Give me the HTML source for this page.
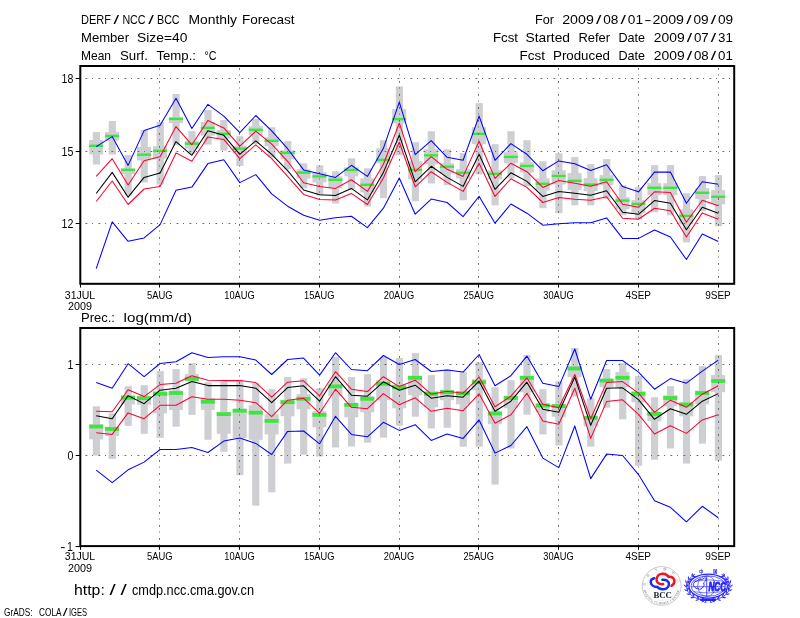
<!DOCTYPE html>
<html lang="en"><head><meta charset="utf-8"><title>DERF/NCC/BCC Monthly Forecast</title>
<style>html,body{margin:0;padding:0;background:#fff}svg{display:block}text{font-family:'Liberation Sans', sans-serif;fill:#000}</style>
</head><body>
<svg width="800" height="618" viewBox="0 0 800 618">
<rect width="800" height="618" fill="#fff"/>
<text y="24.0" font-size="13"><tspan x="81.0" textLength="30.0" lengthAdjust="spacingAndGlyphs">DERF</tspan><tspan x="113.6" textLength="5.6" lengthAdjust="spacingAndGlyphs">/</tspan><tspan x="122.4" textLength="23.2" lengthAdjust="spacingAndGlyphs">NCC</tspan><tspan x="148.2" textLength="5.6" lengthAdjust="spacingAndGlyphs">/</tspan><tspan x="157.0" textLength="22.6" lengthAdjust="spacingAndGlyphs">BCC</tspan> <tspan x="188.4" textLength="48.7" lengthAdjust="spacingAndGlyphs">Monthly</tspan> <tspan x="242.0" textLength="52.6" lengthAdjust="spacingAndGlyphs">Forecast</tspan></text>
<text y="42.0" font-size="13"><tspan x="81.0" textLength="48.0" lengthAdjust="spacingAndGlyphs">Member</tspan> <tspan x="137.0" textLength="50.4" lengthAdjust="spacingAndGlyphs">Size=40</tspan></text>
<text y="60.0" font-size="13"><tspan x="81.0" textLength="30.0" lengthAdjust="spacingAndGlyphs">Mean</tspan> <tspan x="120.0" textLength="28.0" lengthAdjust="spacingAndGlyphs">Surf.</tspan> <tspan x="156.4" textLength="39.6" lengthAdjust="spacingAndGlyphs">Temp.:</tspan> <tspan x="204.4" textLength="12.0" lengthAdjust="spacingAndGlyphs">°C</tspan></text>
<text y="24.0" font-size="13"><tspan x="535.0" textLength="19.0" lengthAdjust="spacingAndGlyphs">For</tspan> <tspan x="562.2" textLength="31.6" lengthAdjust="spacingAndGlyphs">2009</tspan><tspan x="596.0" textLength="5.4" lengthAdjust="spacingAndGlyphs">/</tspan><tspan x="603.2" textLength="15.2" lengthAdjust="spacingAndGlyphs">08</tspan><tspan x="620.6" textLength="5.4" lengthAdjust="spacingAndGlyphs">/</tspan><tspan x="627.8" textLength="15.2" lengthAdjust="spacingAndGlyphs">01</tspan><tspan x="644.2" textLength="7.4" lengthAdjust="spacingAndGlyphs">-</tspan><tspan x="652.4" textLength="31.6" lengthAdjust="spacingAndGlyphs">2009</tspan><tspan x="686.2" textLength="5.4" lengthAdjust="spacingAndGlyphs">/</tspan><tspan x="693.4" textLength="15.2" lengthAdjust="spacingAndGlyphs">09</tspan><tspan x="710.8" textLength="5.4" lengthAdjust="spacingAndGlyphs">/</tspan><tspan x="718.0" textLength="15.2" lengthAdjust="spacingAndGlyphs">09</tspan></text>
<text y="42.0" font-size="13"><tspan x="493.0" textLength="25.0" lengthAdjust="spacingAndGlyphs">Fcst</tspan> <tspan x="525.6" textLength="44.4" lengthAdjust="spacingAndGlyphs">Started</tspan> <tspan x="578.4" textLength="31.6" lengthAdjust="spacingAndGlyphs">Refer</tspan> <tspan x="618.4" textLength="26.6" lengthAdjust="spacingAndGlyphs">Date</tspan> <tspan x="653.8" textLength="30.9" lengthAdjust="spacingAndGlyphs">2009</tspan><tspan x="686.8" textLength="5.4" lengthAdjust="spacingAndGlyphs">/</tspan><tspan x="693.9" textLength="14.8" lengthAdjust="spacingAndGlyphs">07</tspan><tspan x="710.8" textLength="5.4" lengthAdjust="spacingAndGlyphs">/</tspan><tspan x="718.0" textLength="14.8" lengthAdjust="spacingAndGlyphs">31</tspan></text>
<text y="60.0" font-size="13"><tspan x="519.6" textLength="25.4" lengthAdjust="spacingAndGlyphs">Fcst</tspan> <tspan x="553.0" textLength="57.0" lengthAdjust="spacingAndGlyphs">Produced</tspan> <tspan x="618.4" textLength="26.6" lengthAdjust="spacingAndGlyphs">Date</tspan> <tspan x="653.8" textLength="30.9" lengthAdjust="spacingAndGlyphs">2009</tspan><tspan x="686.8" textLength="5.4" lengthAdjust="spacingAndGlyphs">/</tspan><tspan x="693.9" textLength="14.8" lengthAdjust="spacingAndGlyphs">08</tspan><tspan x="710.8" textLength="5.4" lengthAdjust="spacingAndGlyphs">/</tspan><tspan x="718.0" textLength="14.8" lengthAdjust="spacingAndGlyphs">01</tspan></text>
<style>.g{stroke:#666;stroke-width:1;stroke-dasharray:1.8 4.7 1 5.5;fill:none}</style>
<rect x="92.8" y="132.0" width="7.2" height="32.5" fill="#cecfd3"/>
<rect x="89.2" y="140.0" width="14" height="14.5" fill="#cecfd3"/>
<rect x="108.7" y="121.0" width="7.2" height="33.5" fill="#cecfd3"/>
<rect x="105.1" y="132.0" width="14" height="8.6" fill="#cecfd3"/>
<rect x="124.6" y="155.0" width="7.2" height="40.5" fill="#cecfd3"/>
<rect x="121.0" y="168.5" width="14" height="5.5" fill="#cecfd3"/>
<rect x="140.6" y="130.0" width="7.2" height="52.5" fill="#cecfd3"/>
<rect x="137.0" y="147.0" width="14" height="13.4" fill="#cecfd3"/>
<rect x="156.6" y="122.0" width="7.2" height="62.6" fill="#cecfd3"/>
<rect x="153.0" y="146.2" width="14" height="12.3" fill="#cecfd3"/>
<rect x="172.5" y="94.0" width="7.2" height="51.0" fill="#cecfd3"/>
<rect x="168.9" y="117.0" width="14" height="6.0" fill="#cecfd3"/>
<rect x="188.4" y="131.0" width="7.2" height="22.8" fill="#cecfd3"/>
<rect x="184.8" y="141.0" width="14" height="7.6" fill="#cecfd3"/>
<rect x="204.4" y="110.0" width="7.2" height="34.6" fill="#cecfd3"/>
<rect x="200.8" y="122.0" width="14" height="13.6" fill="#cecfd3"/>
<rect x="220.3" y="120.0" width="7.2" height="30.6" fill="#cecfd3"/>
<rect x="216.7" y="130.0" width="14" height="8.5" fill="#cecfd3"/>
<rect x="236.3" y="136.2" width="7.2" height="29.7" fill="#cecfd3"/>
<rect x="232.7" y="145.8" width="14" height="7.5" fill="#cecfd3"/>
<rect x="252.2" y="119.1" width="7.2" height="25.1" fill="#cecfd3"/>
<rect x="248.7" y="126.2" width="14" height="9.0" fill="#cecfd3"/>
<rect x="268.2" y="127.2" width="7.2" height="30.1" fill="#cecfd3"/>
<rect x="264.6" y="137.2" width="14" height="9.0" fill="#cecfd3"/>
<rect x="284.1" y="141.2" width="7.2" height="28.1" fill="#cecfd3"/>
<rect x="280.5" y="150.3" width="14" height="9.0" fill="#cecfd3"/>
<rect x="300.1" y="163.3" width="7.2" height="25.1" fill="#cecfd3"/>
<rect x="296.5" y="169.3" width="14" height="9.1" fill="#cecfd3"/>
<rect x="316.1" y="165.3" width="7.2" height="30.1" fill="#cecfd3"/>
<rect x="312.4" y="172.4" width="14" height="10.0" fill="#cecfd3"/>
<rect x="332.0" y="171.3" width="7.2" height="32.2" fill="#cecfd3"/>
<rect x="328.4" y="176.4" width="14" height="12.0" fill="#cecfd3"/>
<rect x="347.9" y="158.3" width="7.2" height="31.1" fill="#cecfd3"/>
<rect x="344.3" y="167.3" width="14" height="9.1" fill="#cecfd3"/>
<rect x="363.9" y="168.3" width="7.2" height="38.2" fill="#cecfd3"/>
<rect x="360.3" y="178.4" width="14" height="14.0" fill="#cecfd3"/>
<rect x="379.9" y="140.2" width="7.2" height="57.9" fill="#cecfd3"/>
<rect x="376.2" y="148.3" width="14" height="15.0" fill="#cecfd3"/>
<rect x="395.8" y="86.4" width="7.2" height="68.9" fill="#cecfd3"/>
<rect x="392.2" y="109.1" width="14" height="14.1" fill="#cecfd3"/>
<rect x="411.8" y="142.2" width="7.2" height="59.1" fill="#cecfd3"/>
<rect x="408.1" y="161.3" width="14" height="18.1" fill="#cecfd3"/>
<rect x="427.7" y="131.2" width="7.2" height="52.3" fill="#cecfd3"/>
<rect x="424.1" y="149.3" width="14" height="15.0" fill="#cecfd3"/>
<rect x="443.6" y="149.3" width="7.2" height="35.9" fill="#cecfd3"/>
<rect x="440.0" y="163.3" width="14" height="10.1" fill="#cecfd3"/>
<rect x="459.6" y="153.3" width="7.2" height="47.0" fill="#cecfd3"/>
<rect x="456.0" y="169.3" width="14" height="9.1" fill="#cecfd3"/>
<rect x="475.6" y="103.1" width="7.2" height="71.3" fill="#cecfd3"/>
<rect x="471.9" y="127.2" width="14" height="17.0" fill="#cecfd3"/>
<rect x="491.5" y="144.2" width="7.2" height="61.1" fill="#cecfd3"/>
<rect x="487.9" y="170.3" width="14" height="9.1" fill="#cecfd3"/>
<rect x="507.4" y="131.2" width="7.2" height="47.2" fill="#cecfd3"/>
<rect x="503.8" y="152.3" width="14" height="11.0" fill="#cecfd3"/>
<rect x="523.4" y="140.2" width="7.2" height="46.2" fill="#cecfd3"/>
<rect x="519.8" y="162.3" width="14" height="10.1" fill="#cecfd3"/>
<rect x="539.3" y="161.3" width="7.2" height="46.9" fill="#cecfd3"/>
<rect x="535.7" y="178.4" width="14" height="12.0" fill="#cecfd3"/>
<rect x="555.3" y="153.3" width="7.2" height="59.9" fill="#cecfd3"/>
<rect x="551.7" y="170.3" width="14" height="14.1" fill="#cecfd3"/>
<rect x="571.2" y="157.1" width="7.2" height="48.2" fill="#cecfd3"/>
<rect x="567.6" y="173.1" width="14" height="17.1" fill="#cecfd3"/>
<rect x="587.2" y="164.1" width="7.2" height="41.2" fill="#cecfd3"/>
<rect x="583.6" y="178.2" width="14" height="13.0" fill="#cecfd3"/>
<rect x="603.1" y="159.1" width="7.2" height="40.1" fill="#cecfd3"/>
<rect x="599.5" y="175.1" width="14" height="10.1" fill="#cecfd3"/>
<rect x="619.1" y="185.2" width="7.2" height="30.1" fill="#cecfd3"/>
<rect x="615.5" y="197.2" width="14" height="12.1" fill="#cecfd3"/>
<rect x="635.0" y="187.2" width="7.2" height="32.1" fill="#cecfd3"/>
<rect x="631.4" y="200.2" width="14" height="13.1" fill="#cecfd3"/>
<rect x="651.0" y="165.1" width="7.2" height="47.2" fill="#cecfd3"/>
<rect x="647.4" y="183.2" width="14" height="12.0" fill="#cecfd3"/>
<rect x="666.9" y="165.1" width="7.2" height="50.2" fill="#cecfd3"/>
<rect x="663.3" y="183.2" width="14" height="12.0" fill="#cecfd3"/>
<rect x="682.9" y="193.2" width="7.2" height="49.2" fill="#cecfd3"/>
<rect x="679.3" y="209.3" width="14" height="15.0" fill="#cecfd3"/>
<rect x="698.8" y="176.1" width="7.2" height="35.2" fill="#cecfd3"/>
<rect x="695.2" y="188.2" width="14" height="11.0" fill="#cecfd3"/>
<rect x="714.8" y="175.1" width="7.2" height="51.2" fill="#cecfd3"/>
<rect x="711.2" y="190.2" width="14" height="14.1" fill="#cecfd3"/>
<rect x="89.2" y="144.6" width="14" height="2.4" fill="#3ce63c"/>
<rect x="105.1" y="134.8" width="14" height="2.4" fill="#3ce63c"/>
<rect x="121.0" y="168.6" width="14" height="2.4" fill="#3ce63c"/>
<rect x="137.0" y="153.5" width="14" height="2.4" fill="#3ce63c"/>
<rect x="153.0" y="149.6" width="14" height="2.4" fill="#3ce63c"/>
<rect x="168.9" y="117.7" width="14" height="2.4" fill="#3ce63c"/>
<rect x="184.8" y="142.5" width="14" height="2.4" fill="#3ce63c"/>
<rect x="200.8" y="126.6" width="14" height="2.4" fill="#3ce63c"/>
<rect x="216.7" y="132.6" width="14" height="2.4" fill="#3ce63c"/>
<rect x="232.7" y="147.5" width="14" height="2.4" fill="#3ce63c"/>
<rect x="248.7" y="128.6" width="14" height="2.4" fill="#3ce63c"/>
<rect x="264.6" y="139.6" width="14" height="2.4" fill="#3ce63c"/>
<rect x="280.5" y="151.7" width="14" height="2.4" fill="#3ce63c"/>
<rect x="296.5" y="171.4" width="14" height="2.4" fill="#3ce63c"/>
<rect x="312.4" y="175.2" width="14" height="2.4" fill="#3ce63c"/>
<rect x="328.4" y="178.6" width="14" height="2.4" fill="#3ce63c"/>
<rect x="344.3" y="168.7" width="14" height="2.4" fill="#3ce63c"/>
<rect x="360.3" y="183.6" width="14" height="2.4" fill="#3ce63c"/>
<rect x="376.2" y="158.7" width="14" height="2.4" fill="#3ce63c"/>
<rect x="392.2" y="117.9" width="14" height="2.4" fill="#3ce63c"/>
<rect x="408.1" y="168.7" width="14" height="2.4" fill="#3ce63c"/>
<rect x="424.1" y="154.1" width="14" height="2.4" fill="#3ce63c"/>
<rect x="440.0" y="165.5" width="14" height="2.4" fill="#3ce63c"/>
<rect x="456.0" y="171.6" width="14" height="2.4" fill="#3ce63c"/>
<rect x="471.9" y="132.6" width="14" height="2.4" fill="#3ce63c"/>
<rect x="487.9" y="172.6" width="14" height="2.4" fill="#3ce63c"/>
<rect x="503.8" y="155.7" width="14" height="2.4" fill="#3ce63c"/>
<rect x="519.8" y="164.7" width="14" height="2.4" fill="#3ce63c"/>
<rect x="535.7" y="182.6" width="14" height="2.4" fill="#3ce63c"/>
<rect x="551.7" y="174.8" width="14" height="2.4" fill="#3ce63c"/>
<rect x="567.6" y="179.6" width="14" height="2.4" fill="#3ce63c"/>
<rect x="583.6" y="183.4" width="14" height="2.4" fill="#3ce63c"/>
<rect x="599.5" y="178.6" width="14" height="2.4" fill="#3ce63c"/>
<rect x="615.5" y="199.4" width="14" height="2.4" fill="#3ce63c"/>
<rect x="631.4" y="202.7" width="14" height="2.4" fill="#3ce63c"/>
<rect x="647.4" y="186.6" width="14" height="2.4" fill="#3ce63c"/>
<rect x="663.3" y="186.6" width="14" height="2.4" fill="#3ce63c"/>
<rect x="679.3" y="214.7" width="14" height="2.4" fill="#3ce63c"/>
<rect x="695.2" y="191.6" width="14" height="2.4" fill="#3ce63c"/>
<rect x="711.2" y="195.6" width="14" height="2.4" fill="#3ce63c"/>
<line x1="85.5" y1="78.5" x2="733.2" y2="78.5" class="g"/>
<line x1="85.5" y1="151.5" x2="733.2" y2="151.5" class="g"/>
<line x1="85.5" y1="223.5" x2="733.2" y2="223.5" class="g"/>
<line x1="159.5" y1="68.0" x2="159.5" y2="282.8" class="g"/>
<line x1="239.5" y1="68.0" x2="239.5" y2="282.8" class="g"/>
<line x1="319.5" y1="68.0" x2="319.5" y2="282.8" class="g"/>
<line x1="399.5" y1="68.0" x2="399.5" y2="282.8" class="g"/>
<line x1="478.5" y1="68.0" x2="478.5" y2="282.8" class="g"/>
<line x1="558.5" y1="68.0" x2="558.5" y2="282.8" class="g"/>
<line x1="638.5" y1="68.0" x2="638.5" y2="282.8" class="g"/>
<line x1="718.5" y1="68.0" x2="718.5" y2="282.8" class="g"/>
<polyline points="96.2,268.6 112.2,221.8 128.1,241.3 144.1,237.9 160.1,224.6 176.0,190.3 191.9,187.1 207.9,163.6 223.8,159.7 239.8,182.6 255.8,174.6 271.7,193.8 287.6,206.2 303.6,215.2 319.6,220.2 335.5,217.8 351.4,216.2 367.4,227.6 383.4,208.2 399.3,178.0 415.2,214.2 431.2,199.1 447.1,202.5 463.1,216.6 479.1,196.2 495.0,223.2 510.9,204.0 526.9,213.2 542.8,225.2 558.8,223.8 574.8,222.7 590.7,222.7 606.6,217.9 622.6,238.4 638.5,238.4 654.5,230.0 670.4,237.0 686.4,259.5 702.3,234.0 718.3,241.4" fill="none" stroke="#0000ff" stroke-width="1.05" stroke-linejoin="round"/>
<polyline points="96.2,146.6 112.2,136.6 128.1,165.4 144.1,130.6 160.1,125.2 176.0,98.2 191.9,128.5 207.9,104.3 223.8,116.1 239.8,132.6 255.8,115.5 271.7,130.8 287.6,148.7 303.6,169.9 319.6,173.8 335.5,177.4 351.4,165.3 367.4,176.4 383.4,148.3 399.3,102.1 415.2,154.7 431.2,140.6 447.1,157.3 463.1,160.3 479.1,116.1 495.0,160.3 510.9,143.6 526.9,154.3 542.8,170.7 558.8,160.9 574.8,163.7 590.7,170.5 606.6,164.7 622.6,186.6 638.5,191.8 654.5,172.1 670.4,172.1 686.4,203.3 702.3,181.8 718.3,184.2" fill="none" stroke="#0000ff" stroke-width="1.05" stroke-linejoin="round"/>
<polyline points="96.2,201.5 112.2,181.0 128.1,204.5 144.1,189.0 160.1,186.4 176.0,152.9 191.9,161.3 207.9,136.9 223.8,139.4 239.8,158.7 255.8,144.8 271.7,158.7 287.6,176.4 303.6,194.4 319.6,199.5 335.5,199.9 351.4,193.4 367.4,204.5 383.4,178.0 399.3,142.2 415.2,186.8 431.2,171.7 447.1,182.4 463.1,191.4 479.1,163.3 495.0,196.4 510.9,178.8 526.9,187.4 542.8,202.5 558.8,197.5 574.8,199.2 590.7,200.2 606.6,196.8 622.6,218.3 638.5,219.3 654.5,208.3 670.4,210.7 686.4,237.0 702.3,212.9 718.3,219.3" fill="none" stroke="#ff0030" stroke-width="1.05" stroke-linejoin="round"/>
<polyline points="96.2,176.4 112.2,158.7 128.1,185.0 144.1,160.7 160.1,156.7 176.0,126.6 191.9,144.8 207.9,120.5 223.8,127.9 239.8,146.2 255.8,131.2 271.7,144.2 287.6,161.3 303.6,182.8 319.6,186.4 335.5,188.4 351.4,179.8 367.4,191.4 383.4,164.3 399.3,123.2 415.2,171.7 431.2,156.7 447.1,169.3 463.1,176.4 479.1,141.2 495.0,178.4 510.9,163.3 526.9,171.7 542.8,187.4 558.8,180.4 574.8,183.2 590.7,186.2 606.6,181.8 622.6,204.3 638.5,207.3 654.5,191.8 670.4,192.6 686.4,222.3 702.3,200.2 718.3,205.7" fill="none" stroke="#ff0030" stroke-width="1.05" stroke-linejoin="round"/>
<polyline points="96.2,193.5 112.2,172.4 128.1,197.2 144.1,177.4 160.1,173.0 176.0,141.6 191.9,155.3 207.9,130.8 223.8,135.3 239.8,154.3 255.8,140.8 271.7,154.3 287.6,170.7 303.6,190.0 319.6,194.8 335.5,195.4 351.4,188.4 367.4,199.9 383.4,172.4 399.3,135.2 415.2,181.8 431.2,166.3 447.1,177.4 463.1,186.4 479.1,154.3 495.0,189.4 510.9,172.8 526.9,181.4 542.8,196.4 558.8,191.4 574.8,193.2 590.7,195.2 606.6,190.8 622.6,212.3 638.5,214.3 654.5,200.6 670.4,203.3 686.4,229.8 702.3,207.3 718.3,213.3" fill="none" stroke="#000" stroke-width="1.05" stroke-linejoin="round"/>
<rect x="80.3" y="66.0" width="653.9" height="217.8" fill="none" stroke="#000" stroke-width="2"/>
<line x1="80.5" y1="283.8" x2="80.5" y2="287.5" stroke="#000" stroke-width="1"/>
<line x1="159.5" y1="283.8" x2="159.5" y2="287.5" stroke="#000" stroke-width="1"/>
<line x1="239.5" y1="283.8" x2="239.5" y2="287.5" stroke="#000" stroke-width="1"/>
<line x1="319.5" y1="283.8" x2="319.5" y2="287.5" stroke="#000" stroke-width="1"/>
<line x1="399.5" y1="283.8" x2="399.5" y2="287.5" stroke="#000" stroke-width="1"/>
<line x1="478.5" y1="283.8" x2="478.5" y2="287.5" stroke="#000" stroke-width="1"/>
<line x1="558.5" y1="283.8" x2="558.5" y2="287.5" stroke="#000" stroke-width="1"/>
<line x1="638.5" y1="283.8" x2="638.5" y2="287.5" stroke="#000" stroke-width="1"/>
<line x1="718.5" y1="283.8" x2="718.5" y2="287.5" stroke="#000" stroke-width="1"/>
<line x1="75.7" y1="78.5" x2="80.3" y2="78.5" stroke="#000" stroke-width="1"/>
<text x="73.3" y="82.9" font-size="12.6" text-anchor="end" textLength="11.8" lengthAdjust="spacingAndGlyphs">18</text>
<line x1="75.7" y1="151.5" x2="80.3" y2="151.5" stroke="#000" stroke-width="1"/>
<text x="73.3" y="155.7" font-size="12.6" text-anchor="end" textLength="11.8" lengthAdjust="spacingAndGlyphs">15</text>
<line x1="75.7" y1="223.5" x2="80.3" y2="223.5" stroke="#000" stroke-width="1"/>
<text x="73.3" y="228.1" font-size="12.6" text-anchor="end" textLength="11.8" lengthAdjust="spacingAndGlyphs">12</text>
<text x="80.0" y="298.7" font-size="11.6" text-anchor="middle" textLength="30.4" lengthAdjust="spacingAndGlyphs">31JUL</text>
<text x="159.8" y="298.7" font-size="11.6" text-anchor="middle" textLength="25.6" lengthAdjust="spacingAndGlyphs">5AUG</text>
<text x="239.5" y="298.7" font-size="11.6" text-anchor="middle" textLength="30.4" lengthAdjust="spacingAndGlyphs">10AUG</text>
<text x="319.2" y="298.7" font-size="11.6" text-anchor="middle" textLength="30.4" lengthAdjust="spacingAndGlyphs">15AUG</text>
<text x="399.0" y="298.7" font-size="11.6" text-anchor="middle" textLength="30.4" lengthAdjust="spacingAndGlyphs">20AUG</text>
<text x="478.8" y="298.7" font-size="11.6" text-anchor="middle" textLength="30.4" lengthAdjust="spacingAndGlyphs">25AUG</text>
<text x="558.5" y="298.7" font-size="11.6" text-anchor="middle" textLength="30.4" lengthAdjust="spacingAndGlyphs">30AUG</text>
<text x="638.2" y="298.7" font-size="11.6" text-anchor="middle" textLength="25.6" lengthAdjust="spacingAndGlyphs">4SEP</text>
<text x="718.0" y="298.7" font-size="11.6" text-anchor="middle" textLength="25.6" lengthAdjust="spacingAndGlyphs">9SEP</text>
<text x="80.0" y="309.5" font-size="11.6" text-anchor="middle" textLength="24.0" lengthAdjust="spacingAndGlyphs">2009</text>
<text y="321.6" font-size="12.6"><tspan x="81.0" textLength="34.0" lengthAdjust="spacingAndGlyphs">Prec.:</tspan> <tspan x="123.6" textLength="68.4" lengthAdjust="spacingAndGlyphs">log(mm/d)</tspan> </text>
<rect x="92.8" y="406.3" width="7.2" height="49.2" fill="#cecfd3"/>
<rect x="89.2" y="424.3" width="14" height="15.1" fill="#cecfd3"/>
<rect x="108.7" y="413.3" width="7.2" height="45.6" fill="#cecfd3"/>
<rect x="105.1" y="426.7" width="14" height="9.3" fill="#cecfd3"/>
<rect x="124.6" y="386.2" width="7.2" height="39.7" fill="#cecfd3"/>
<rect x="121.0" y="395.2" width="14" height="9.1" fill="#cecfd3"/>
<rect x="140.6" y="385.2" width="7.2" height="48.6" fill="#cecfd3"/>
<rect x="137.0" y="395.8" width="14" height="8.9" fill="#cecfd3"/>
<rect x="156.6" y="371.1" width="7.2" height="66.7" fill="#cecfd3"/>
<rect x="153.0" y="391.2" width="14" height="22.1" fill="#cecfd3"/>
<rect x="172.5" y="369.1" width="7.2" height="57.6" fill="#cecfd3"/>
<rect x="168.9" y="390.6" width="14" height="19.3" fill="#cecfd3"/>
<rect x="188.4" y="363.1" width="7.2" height="51.8" fill="#cecfd3"/>
<rect x="184.8" y="374.1" width="14" height="7.1" fill="#cecfd3"/>
<rect x="204.4" y="382.2" width="7.2" height="57.6" fill="#cecfd3"/>
<rect x="200.8" y="398.2" width="14" height="11.7" fill="#cecfd3"/>
<rect x="220.3" y="381.2" width="7.2" height="70.6" fill="#cecfd3"/>
<rect x="216.7" y="411.9" width="14" height="21.9" fill="#cecfd3"/>
<rect x="236.3" y="380.2" width="7.2" height="95.0" fill="#cecfd3"/>
<rect x="232.7" y="408.7" width="14" height="29.3" fill="#cecfd3"/>
<rect x="252.2" y="383.2" width="7.2" height="122.5" fill="#cecfd3"/>
<rect x="248.7" y="405.3" width="14" height="34.5" fill="#cecfd3"/>
<rect x="268.2" y="389.2" width="7.2" height="103.1" fill="#cecfd3"/>
<rect x="264.6" y="414.3" width="14" height="20.1" fill="#cecfd3"/>
<rect x="284.1" y="377.1" width="7.2" height="86.5" fill="#cecfd3"/>
<rect x="280.5" y="399.8" width="14" height="16.5" fill="#cecfd3"/>
<rect x="300.1" y="378.2" width="7.2" height="76.5" fill="#cecfd3"/>
<rect x="296.5" y="394.2" width="14" height="15.1" fill="#cecfd3"/>
<rect x="316.1" y="388.2" width="7.2" height="68.3" fill="#cecfd3"/>
<rect x="312.4" y="411.3" width="14" height="16.0" fill="#cecfd3"/>
<rect x="332.0" y="357.1" width="7.2" height="90.4" fill="#cecfd3"/>
<rect x="328.4" y="384.2" width="14" height="11.8" fill="#cecfd3"/>
<rect x="347.9" y="377.1" width="7.2" height="69.4" fill="#cecfd3"/>
<rect x="344.3" y="402.7" width="14" height="14.6" fill="#cecfd3"/>
<rect x="363.9" y="374.1" width="7.2" height="68.6" fill="#cecfd3"/>
<rect x="360.3" y="396.2" width="14" height="16.1" fill="#cecfd3"/>
<rect x="379.9" y="357.1" width="7.2" height="80.5" fill="#cecfd3"/>
<rect x="376.2" y="380.2" width="14" height="20.0" fill="#cecfd3"/>
<rect x="395.8" y="358.1" width="7.2" height="67.6" fill="#cecfd3"/>
<rect x="392.2" y="384.6" width="14" height="23.7" fill="#cecfd3"/>
<rect x="411.8" y="353.1" width="7.2" height="63.6" fill="#cecfd3"/>
<rect x="408.1" y="375.7" width="14" height="19.5" fill="#cecfd3"/>
<rect x="427.7" y="375.1" width="7.2" height="53.3" fill="#cecfd3"/>
<rect x="424.1" y="391.2" width="14" height="16.1" fill="#cecfd3"/>
<rect x="443.6" y="369.1" width="7.2" height="58.7" fill="#cecfd3"/>
<rect x="440.0" y="389.8" width="14" height="10.4" fill="#cecfd3"/>
<rect x="459.6" y="372.1" width="7.2" height="74.6" fill="#cecfd3"/>
<rect x="456.0" y="391.2" width="14" height="13.1" fill="#cecfd3"/>
<rect x="475.6" y="362.1" width="7.2" height="84.6" fill="#cecfd3"/>
<rect x="471.9" y="379.2" width="14" height="11.0" fill="#cecfd3"/>
<rect x="491.5" y="387.2" width="7.2" height="97.4" fill="#cecfd3"/>
<rect x="487.9" y="411.3" width="14" height="13.0" fill="#cecfd3"/>
<rect x="507.4" y="380.2" width="7.2" height="68.3" fill="#cecfd3"/>
<rect x="503.8" y="395.6" width="14" height="12.7" fill="#cecfd3"/>
<rect x="523.4" y="355.1" width="7.2" height="59.6" fill="#cecfd3"/>
<rect x="519.8" y="375.7" width="14" height="16.5" fill="#cecfd3"/>
<rect x="539.3" y="389.2" width="7.2" height="45.2" fill="#cecfd3"/>
<rect x="535.7" y="403.3" width="14" height="9.0" fill="#cecfd3"/>
<rect x="555.3" y="381.2" width="7.2" height="64.3" fill="#cecfd3"/>
<rect x="551.7" y="403.9" width="14" height="12.8" fill="#cecfd3"/>
<rect x="571.2" y="348.0" width="7.2" height="48.6" fill="#cecfd3"/>
<rect x="567.6" y="366.5" width="14" height="10.6" fill="#cecfd3"/>
<rect x="587.2" y="398.2" width="7.2" height="48.5" fill="#cecfd3"/>
<rect x="583.6" y="415.7" width="14" height="10.6" fill="#cecfd3"/>
<rect x="603.1" y="369.1" width="7.2" height="38.6" fill="#cecfd3"/>
<rect x="599.5" y="378.6" width="14" height="8.6" fill="#cecfd3"/>
<rect x="619.1" y="363.1" width="7.2" height="56.2" fill="#cecfd3"/>
<rect x="615.5" y="372.1" width="14" height="15.1" fill="#cecfd3"/>
<rect x="635.0" y="376.1" width="7.2" height="89.7" fill="#cecfd3"/>
<rect x="631.4" y="391.2" width="14" height="11.0" fill="#cecfd3"/>
<rect x="651.0" y="397.2" width="7.2" height="62.5" fill="#cecfd3"/>
<rect x="647.4" y="411.9" width="14" height="9.4" fill="#cecfd3"/>
<rect x="666.9" y="386.2" width="7.2" height="62.3" fill="#cecfd3"/>
<rect x="663.3" y="395.2" width="14" height="11.1" fill="#cecfd3"/>
<rect x="682.9" y="379.2" width="7.2" height="84.4" fill="#cecfd3"/>
<rect x="679.3" y="402.2" width="14" height="14.1" fill="#cecfd3"/>
<rect x="698.8" y="366.1" width="7.2" height="77.6" fill="#cecfd3"/>
<rect x="695.2" y="390.6" width="14" height="13.7" fill="#cecfd3"/>
<rect x="714.8" y="355.1" width="7.2" height="105.6" fill="#cecfd3"/>
<rect x="711.2" y="375.1" width="14" height="17.1" fill="#cecfd3"/>
<rect x="89.2" y="424.6" width="14" height="3.8" fill="#3ce63c"/>
<rect x="105.1" y="427.1" width="14" height="3.8" fill="#3ce63c"/>
<rect x="121.0" y="395.9" width="14" height="3.8" fill="#3ce63c"/>
<rect x="137.0" y="396.3" width="14" height="3.8" fill="#3ce63c"/>
<rect x="153.0" y="391.9" width="14" height="3.8" fill="#3ce63c"/>
<rect x="168.9" y="391.1" width="14" height="3.8" fill="#3ce63c"/>
<rect x="184.8" y="376.9" width="14" height="3.8" fill="#3ce63c"/>
<rect x="200.8" y="399.9" width="14" height="3.8" fill="#3ce63c"/>
<rect x="216.7" y="412.2" width="14" height="3.8" fill="#3ce63c"/>
<rect x="232.7" y="408.8" width="14" height="3.8" fill="#3ce63c"/>
<rect x="248.7" y="410.8" width="14" height="3.8" fill="#3ce63c"/>
<rect x="264.6" y="419.0" width="14" height="3.8" fill="#3ce63c"/>
<rect x="280.5" y="400.3" width="14" height="3.8" fill="#3ce63c"/>
<rect x="296.5" y="396.9" width="14" height="3.8" fill="#3ce63c"/>
<rect x="312.4" y="413.0" width="14" height="3.8" fill="#3ce63c"/>
<rect x="328.4" y="384.5" width="14" height="3.8" fill="#3ce63c"/>
<rect x="344.3" y="403.0" width="14" height="3.8" fill="#3ce63c"/>
<rect x="360.3" y="396.9" width="14" height="3.8" fill="#3ce63c"/>
<rect x="376.2" y="381.9" width="14" height="3.8" fill="#3ce63c"/>
<rect x="392.2" y="385.3" width="14" height="3.8" fill="#3ce63c"/>
<rect x="408.1" y="375.9" width="14" height="3.8" fill="#3ce63c"/>
<rect x="424.1" y="391.9" width="14" height="3.8" fill="#3ce63c"/>
<rect x="440.0" y="390.3" width="14" height="3.8" fill="#3ce63c"/>
<rect x="456.0" y="391.3" width="14" height="3.8" fill="#3ce63c"/>
<rect x="471.9" y="380.3" width="14" height="3.8" fill="#3ce63c"/>
<rect x="487.9" y="411.6" width="14" height="3.8" fill="#3ce63c"/>
<rect x="503.8" y="396.1" width="14" height="3.8" fill="#3ce63c"/>
<rect x="519.8" y="375.9" width="14" height="3.8" fill="#3ce63c"/>
<rect x="535.7" y="403.6" width="14" height="3.8" fill="#3ce63c"/>
<rect x="551.7" y="404.2" width="14" height="3.8" fill="#3ce63c"/>
<rect x="567.6" y="366.6" width="14" height="3.8" fill="#3ce63c"/>
<rect x="583.6" y="416.0" width="14" height="3.8" fill="#3ce63c"/>
<rect x="599.5" y="378.7" width="14" height="3.8" fill="#3ce63c"/>
<rect x="615.5" y="375.9" width="14" height="3.8" fill="#3ce63c"/>
<rect x="631.4" y="391.9" width="14" height="3.8" fill="#3ce63c"/>
<rect x="647.4" y="412.0" width="14" height="3.8" fill="#3ce63c"/>
<rect x="663.3" y="396.1" width="14" height="3.8" fill="#3ce63c"/>
<rect x="679.3" y="402.6" width="14" height="3.8" fill="#3ce63c"/>
<rect x="695.2" y="391.1" width="14" height="3.8" fill="#3ce63c"/>
<rect x="711.2" y="379.1" width="14" height="3.8" fill="#3ce63c"/>
<line x1="85.5" y1="364.5" x2="733.2" y2="364.5" class="g"/>
<line x1="85.5" y1="455.5" x2="733.2" y2="455.5" class="g"/>
<line x1="85.5" y1="546.5" x2="733.2" y2="546.5" class="g"/>
<line x1="159.5" y1="330.0" x2="159.5" y2="545.1" class="g"/>
<line x1="239.5" y1="330.0" x2="239.5" y2="545.1" class="g"/>
<line x1="319.5" y1="330.0" x2="319.5" y2="545.1" class="g"/>
<line x1="399.5" y1="330.0" x2="399.5" y2="545.1" class="g"/>
<line x1="478.5" y1="330.0" x2="478.5" y2="545.1" class="g"/>
<line x1="558.5" y1="330.0" x2="558.5" y2="545.1" class="g"/>
<line x1="638.5" y1="330.0" x2="638.5" y2="545.1" class="g"/>
<line x1="718.5" y1="330.0" x2="718.5" y2="545.1" class="g"/>
<polyline points="96.2,470.2 112.2,482.6 128.1,469.8 144.1,462.1 160.1,449.5 176.0,449.5 191.9,447.5 207.9,452.5 223.8,441.1 239.8,438.0 255.8,443.4 271.7,454.5 287.6,431.4 303.6,431.0 319.6,443.8 335.5,416.3 351.4,434.4 367.4,436.8 383.4,422.3 399.3,430.4 415.2,424.7 431.2,440.4 447.1,434.0 463.1,438.4 479.1,419.9 495.0,453.1 510.9,445.5 526.9,426.7 542.8,458.1 558.8,467.6 574.8,426.0 590.7,478.6 606.6,454.1 622.6,455.5 638.5,474.6 654.5,500.7 670.4,507.3 686.4,521.8 702.3,506.3 718.3,517.8" fill="none" stroke="#0000ff" stroke-width="1.05" stroke-linejoin="round"/>
<polyline points="96.2,382.6 112.2,388.2 128.1,363.7 144.1,376.7 160.1,363.5 176.0,361.7 191.9,352.7 207.9,357.5 223.8,356.7 239.8,356.7 255.8,360.1 271.7,374.5 287.6,359.5 303.6,358.1 319.6,375.1 335.5,352.7 351.4,369.5 367.4,370.7 383.4,355.5 399.3,364.5 415.2,359.5 431.2,371.5 447.1,370.1 463.1,372.1 479.1,354.5 495.0,385.8 510.9,375.7 526.9,356.1 542.8,383.2 558.8,386.6 574.8,349.0 590.7,399.2 606.6,360.5 622.6,360.5 638.5,372.1 654.5,389.2 670.4,378.6 686.4,383.2 702.3,371.1 718.3,360.1" fill="none" stroke="#0000ff" stroke-width="1.05" stroke-linejoin="round"/>
<polyline points="96.2,432.8 112.2,434.4 128.1,412.9 144.1,418.7 160.1,405.3 176.0,405.3 191.9,396.8 207.9,399.2 223.8,399.2 239.8,400.2 255.8,402.7 271.7,416.7 287.6,400.2 303.6,398.2 319.6,413.3 335.5,389.2 351.4,407.3 367.4,408.7 383.4,393.6 399.3,404.7 415.2,397.8 431.2,411.3 447.1,408.3 463.1,410.7 479.1,393.8 495.0,423.3 510.9,414.7 526.9,393.2 542.8,420.9 558.8,424.3 574.8,388.2 590.7,438.4 606.6,401.6 622.6,399.8 638.5,414.3 654.5,434.0 670.4,425.7 686.4,433.4 702.3,419.9 718.3,414.7" fill="none" stroke="#ff0030" stroke-width="1.05" stroke-linejoin="round"/>
<polyline points="96.2,411.3 112.2,411.7 128.1,389.8 144.1,396.6 160.1,384.6 176.0,383.2 191.9,375.7 207.9,380.2 223.8,380.6 239.8,380.6 255.8,382.6 271.7,397.2 287.6,382.2 303.6,380.8 319.6,395.8 335.5,371.7 351.4,389.2 367.4,391.6 383.4,376.7 399.3,386.6 415.2,380.2 431.2,394.2 447.1,391.2 463.1,393.2 479.1,377.1 495.0,406.7 510.9,396.2 526.9,377.8 542.8,404.3 558.8,407.7 574.8,374.5 590.7,418.7 606.6,382.6 622.6,381.6 638.5,393.2 654.5,412.3 670.4,400.2 686.4,407.3 702.3,394.2 718.3,385.8" fill="none" stroke="#ff0030" stroke-width="1.05" stroke-linejoin="round"/>
<polyline points="96.2,415.7 112.2,418.7 128.1,395.6 144.1,403.7 160.1,390.2 176.0,388.2 191.9,381.6 207.9,385.6 223.8,385.6 239.8,385.6 255.8,388.2 271.7,402.7 287.6,387.6 303.6,385.8 319.6,401.2 335.5,376.7 351.4,395.2 367.4,396.2 383.4,381.8 399.3,390.2 415.2,385.2 431.2,398.2 447.1,395.8 463.1,397.2 479.1,381.2 495.0,411.3 510.9,401.2 526.9,382.2 542.8,409.3 558.8,412.3 574.8,377.1 590.7,425.3 606.6,388.2 622.6,387.8 638.5,399.6 654.5,419.3 670.4,408.7 686.4,414.3 702.3,401.2 718.3,393.6" fill="none" stroke="#000" stroke-width="1.05" stroke-linejoin="round"/>
<rect x="80.3" y="328.0" width="653.9" height="218.1" fill="none" stroke="#000" stroke-width="2"/>
<line x1="80.5" y1="546.1" x2="80.5" y2="549.8" stroke="#000" stroke-width="1"/>
<line x1="159.5" y1="546.1" x2="159.5" y2="549.8" stroke="#000" stroke-width="1"/>
<line x1="239.5" y1="546.1" x2="239.5" y2="549.8" stroke="#000" stroke-width="1"/>
<line x1="319.5" y1="546.1" x2="319.5" y2="549.8" stroke="#000" stroke-width="1"/>
<line x1="399.5" y1="546.1" x2="399.5" y2="549.8" stroke="#000" stroke-width="1"/>
<line x1="478.5" y1="546.1" x2="478.5" y2="549.8" stroke="#000" stroke-width="1"/>
<line x1="558.5" y1="546.1" x2="558.5" y2="549.8" stroke="#000" stroke-width="1"/>
<line x1="638.5" y1="546.1" x2="638.5" y2="549.8" stroke="#000" stroke-width="1"/>
<line x1="718.5" y1="546.1" x2="718.5" y2="549.8" stroke="#000" stroke-width="1"/>
<line x1="75.7" y1="364.5" x2="80.3" y2="364.5" stroke="#000" stroke-width="1"/>
<text x="73.3" y="368.9" font-size="12.6" text-anchor="end" textLength="5.9" lengthAdjust="spacingAndGlyphs">1</text>
<line x1="75.7" y1="455.5" x2="80.3" y2="455.5" stroke="#000" stroke-width="1"/>
<text x="73.3" y="459.9" font-size="12.6" text-anchor="end" textLength="5.9" lengthAdjust="spacingAndGlyphs">0</text>
<line x1="75.7" y1="546.5" x2="80.3" y2="546.5" stroke="#000" stroke-width="1"/>
<text y="550.6" font-size="12.6"><tspan x="60.2" textLength="5.2" lengthAdjust="spacingAndGlyphs">-</tspan><tspan x="67.0" textLength="5.9" lengthAdjust="spacingAndGlyphs">1</tspan></text>
<text x="80.0" y="559.8" font-size="11.6" text-anchor="middle" textLength="30.4" lengthAdjust="spacingAndGlyphs">31JUL</text>
<text x="159.8" y="559.8" font-size="11.6" text-anchor="middle" textLength="25.6" lengthAdjust="spacingAndGlyphs">5AUG</text>
<text x="239.5" y="559.8" font-size="11.6" text-anchor="middle" textLength="30.4" lengthAdjust="spacingAndGlyphs">10AUG</text>
<text x="319.2" y="559.8" font-size="11.6" text-anchor="middle" textLength="30.4" lengthAdjust="spacingAndGlyphs">15AUG</text>
<text x="399.0" y="559.8" font-size="11.6" text-anchor="middle" textLength="30.4" lengthAdjust="spacingAndGlyphs">20AUG</text>
<text x="478.8" y="559.8" font-size="11.6" text-anchor="middle" textLength="30.4" lengthAdjust="spacingAndGlyphs">25AUG</text>
<text x="558.5" y="559.8" font-size="11.6" text-anchor="middle" textLength="30.4" lengthAdjust="spacingAndGlyphs">30AUG</text>
<text x="638.2" y="559.8" font-size="11.6" text-anchor="middle" textLength="25.6" lengthAdjust="spacingAndGlyphs">4SEP</text>
<text x="718.0" y="559.8" font-size="11.6" text-anchor="middle" textLength="25.6" lengthAdjust="spacingAndGlyphs">9SEP</text>
<text x="80.0" y="571.6" font-size="11.6" text-anchor="middle" textLength="24.0" lengthAdjust="spacingAndGlyphs">2009</text>
<text y="595.0" font-size="14"><tspan x="74.0" textLength="30.8" lengthAdjust="spacingAndGlyphs">http:</tspan><tspan x="109.4" textLength="6.2" lengthAdjust="spacingAndGlyphs">/</tspan><tspan x="120.4" textLength="6.2" lengthAdjust="spacingAndGlyphs">/</tspan><tspan x="132.0" textLength="122.0" lengthAdjust="spacingAndGlyphs">cmdp.ncc.cma.gov.cn</tspan></text>
<text y="615.5" font-size="10.5"><tspan x="4.0" textLength="28.5" lengthAdjust="spacingAndGlyphs">GrADS:</tspan> <tspan x="39.0" textLength="22.5" lengthAdjust="spacingAndGlyphs">COLA</tspan><tspan x="62.8" textLength="4.8" lengthAdjust="spacingAndGlyphs">/</tspan><tspan x="69.0" textLength="18.0" lengthAdjust="spacingAndGlyphs">IGES</tspan></text>
<g id="bcc">
<circle cx="661.7" cy="586.0" r="19.4" fill="#fff" stroke="#c4c4c4" stroke-width="0.9"/>
<circle cx="661.7" cy="586.0" r="14.6" fill="none" stroke="#e2e2e2" stroke-width="0.5"/>
<path id="bccTop" d="M 646.44 590.09 A 15.8 15.8 0 1 1 676.96 590.09" fill="none"/>
<path id="bccBot" d="M 644.30 580.34 A 18.3 18.3 0 1 0 679.10 580.34" fill="none"/>
<text font-size="3.4" style="font-family:'Liberation Sans','Noto Sans CJK SC',sans-serif;fill:#8e8e8e" letter-spacing="5.2"><textPath href="#bccTop" startOffset="51.5%" text-anchor="middle">北京气候中心</textPath></text>
<text font-size="3.1" style="font-family:'Liberation Serif',serif;fill:#8e8e8e;font-weight:bold" letter-spacing="0.3"><textPath href="#bccBot" startOffset="50%" text-anchor="middle">BEIJING CLIMATE CENTER</textPath></text>
<g transform="translate(0.2 0.5)" fill="none" stroke-width="2.5" stroke-linecap="round">
<path d="M662.9 583.6 C659.0 584.2 656.0 582.0 656.4 578.6 C656.8 575.2 659.6 573.0 662.8 573.2 C665.6 573.4 667.4 574.6 668.4 576.4 C671.6 575.8 674.4 578.0 674.2 580.8 C674.0 583.2 672.6 584.6 671.2 585.3" stroke="#f0141e"/>
<path d="M662.2 579.3 C666.0 578.8 669.0 581.0 668.7 584.2 C668.4 587.2 665.4 589.0 662.0 588.7 C659.6 588.5 658.0 587.6 657.0 586.4 C654.0 586.6 651.0 584.8 650.6 582.0 C650.3 579.8 651.8 578.2 654.0 577.7" stroke="#1230e8"/>
</g>
<text x="662.7" y="597.6" font-size="9.2" text-anchor="middle" textLength="18.6" lengthAdjust="spacingAndGlyphs" style="font-family:'Liberation Serif',serif;font-weight:bold;fill:#18202e">BCC</text>
</g>
<g id="ncc" fill="none" stroke="#2424ff">
<ellipse cx="708.2" cy="586.1" rx="19.2" ry="12.0" stroke-width="1.2"/>
<ellipse cx="708.2" cy="586.1" rx="17.2" ry="10.2" stroke-width="0.7"/>
<ellipse cx="706.7" cy="586.1" rx="9.0" ry="10.2" stroke-width="0.6"/>
<line x1="691.0" y1="586.7" x2="725.4" y2="586.7" stroke-width="0.7"/>
<line x1="706.7" y1="575.9" x2="706.7" y2="596.3" stroke-width="0.8"/>
<path d="M693.2 581.1 Q 708.2 578.5 723.2 581.1" stroke-width="0.6"/>
<path d="M693.2 591.7 Q 708.2 594.3 723.2 591.7" stroke-width="0.6"/>
<path d="M693.6 583.6 l1.4 -2.0 l2.6 -0.6 l1.4 -2.0 l3.2 0.4 l2.4 -1.6 l1.8 0.8 l-0.8 2.4 l-2.0 1.8 l0.6 2.4 l-1.8 2.8 l-2.6 1.6 l-2.0 -1.4 l-1.8 0.4 l-1.4 -2.2 l-1.4 -1.2 z" stroke-width="0.9"/>
</g>
<g id="wreath" fill="#2424ff" stroke="none">
<path d="M691.42 576.84 Q694.09 578.28 696.62 576.61 Q693.95 575.18 691.42 576.84 Z"/>
<path d="M691.42 576.84 Q693.46 575.25 692.96 572.72 Q690.93 574.31 691.42 576.84 Z"/>
<path d="M688.31 580.07 Q691.28 580.67 693.22 578.34 Q690.25 577.74 688.31 580.07 Z"/>
<path d="M688.31 580.07 Q689.79 577.96 688.58 575.68 Q687.10 577.79 688.31 580.07 Z"/>
<path d="M686.60 583.72 Q689.59 583.23 690.57 580.37 Q687.59 580.86 686.60 583.72 Z"/>
<path d="M686.60 583.72 Q687.24 581.22 685.30 579.52 Q684.66 582.02 686.60 583.72 Z"/>
<path d="M686.41 587.54 Q688.97 585.92 688.76 582.90 Q686.20 584.52 686.41 587.54 Z"/>
<path d="M686.41 587.54 Q686.02 584.99 683.57 584.18 Q683.96 586.73 686.41 587.54 Z"/>
<path d="M687.75 591.26 Q689.54 588.81 688.23 586.08 Q686.45 588.53 687.75 591.26 Z"/>
<path d="M687.75 591.26 Q686.45 589.03 683.88 589.18 Q685.18 591.41 687.75 591.26 Z"/>
<path d="M690.54 594.61 Q691.48 591.74 689.41 589.54 Q688.46 592.42 690.54 594.61 Z"/>
<path d="M690.54 594.61 Q688.62 592.89 686.21 593.82 Q688.13 595.55 690.54 594.61 Z"/>
<path d="M694.57 597.37 Q694.77 594.35 692.22 592.73 Q692.01 595.75 694.57 597.37 Z"/>
<path d="M694.57 597.37 Q692.28 596.17 690.18 597.67 Q692.46 598.87 694.57 597.37 Z"/>
<path d="M699.56 599.33 Q699.14 596.33 696.30 595.27 Q696.72 598.27 699.56 599.33 Z"/>
<path d="M699.56 599.33 Q697.07 598.63 695.32 600.52 Q697.80 601.23 699.56 599.33 Z"/>
<path d="M705.15 600.36 Q704.20 597.49 701.22 596.96 Q702.17 599.83 705.15 600.36 Z"/>
<path d="M705.15 600.36 Q702.58 600.12 701.21 602.30 Q703.78 602.54 705.15 600.36 Z"/>
<polyline points="691.4,576.8 688.3,580.1 686.6,583.7 686.4,587.5 687.8,591.3 690.5,594.6 694.6,597.4 699.6,599.3 705.2,600.4" fill="none" stroke="#2424ff" stroke-width="0.8"/>
<path d="M691.42 576.84 Q694.19 576.33 695.36 573.76 Q692.59 574.28 691.42 576.84 Z"/>
<path d="M724.98 576.84 Q722.45 575.18 719.78 576.61 Q722.31 578.28 724.98 576.84 Z"/>
<path d="M724.98 576.84 Q725.47 574.31 723.44 572.72 Q722.94 575.25 724.98 576.84 Z"/>
<path d="M728.09 580.07 Q726.15 577.74 723.18 578.34 Q725.12 580.67 728.09 580.07 Z"/>
<path d="M728.09 580.07 Q729.30 577.79 727.82 575.68 Q726.61 577.96 728.09 580.07 Z"/>
<path d="M729.80 583.72 Q728.81 580.86 725.83 580.37 Q726.81 583.23 729.80 583.72 Z"/>
<path d="M729.80 583.72 Q731.74 582.02 731.10 579.52 Q729.16 581.22 729.80 583.72 Z"/>
<path d="M729.99 587.54 Q730.20 584.52 727.64 582.90 Q727.43 585.92 729.99 587.54 Z"/>
<path d="M729.99 587.54 Q732.44 586.73 732.83 584.18 Q730.38 584.99 729.99 587.54 Z"/>
<path d="M728.65 591.26 Q729.95 588.53 728.17 586.08 Q726.86 588.81 728.65 591.26 Z"/>
<path d="M728.65 591.26 Q731.22 591.41 732.52 589.18 Q729.95 589.03 728.65 591.26 Z"/>
<path d="M725.86 594.61 Q727.94 592.42 726.99 589.54 Q724.92 591.74 725.86 594.61 Z"/>
<path d="M725.86 594.61 Q728.27 595.55 730.19 593.82 Q727.78 592.89 725.86 594.61 Z"/>
<path d="M721.83 597.37 Q724.39 595.75 724.18 592.73 Q721.63 594.35 721.83 597.37 Z"/>
<path d="M721.83 597.37 Q723.94 598.87 726.22 597.67 Q724.12 596.17 721.83 597.37 Z"/>
<path d="M716.84 599.33 Q719.68 598.27 720.10 595.27 Q717.26 596.33 716.84 599.33 Z"/>
<path d="M716.84 599.33 Q718.60 601.23 721.08 600.52 Q719.33 598.63 716.84 599.33 Z"/>
<path d="M711.25 600.36 Q714.23 599.83 715.18 596.96 Q712.20 597.49 711.25 600.36 Z"/>
<path d="M711.25 600.36 Q712.62 602.54 715.19 602.30 Q713.82 600.12 711.25 600.36 Z"/>
<polyline points="725.0,576.8 728.1,580.1 729.8,583.7 730.0,587.5 728.6,591.3 725.9,594.6 721.8,597.4 716.8,599.3 711.2,600.4" fill="none" stroke="#2424ff" stroke-width="0.8"/>
<path d="M724.98 576.84 Q723.81 574.28 721.04 573.76 Q722.21 576.33 724.98 576.84 Z"/>
<rect x="700.0" y="598.6" width="16.4" height="2.3" rx="0.8"/>
<path d="M706.0 601 l-2.2 1.8 l3 -0.4 z M710.4 601 l2.2 1.8 l-3 -0.4 z"/>
</g>
<text x="717.3" y="590.5" font-size="12.5" text-anchor="middle" textLength="17.6" lengthAdjust="spacingAndGlyphs" style="font-family:'Liberation Sans',sans-serif;font-weight:bold;font-style:italic;fill:#2424ff;stroke:#2424ff;stroke-width:0.9">NCC</text>
<text x="701.2" y="572.9" font-size="4.4" text-anchor="middle" style="font-family:'Liberation Sans','Noto Sans CJK SC',sans-serif;fill:#2424ff;font-weight:bold">中</text>
<text x="715.1" y="572.9" font-size="4.4" text-anchor="middle" style="font-family:'Liberation Sans','Noto Sans CJK SC',sans-serif;fill:#2424ff;font-weight:bold">国</text>
</svg></body></html>
